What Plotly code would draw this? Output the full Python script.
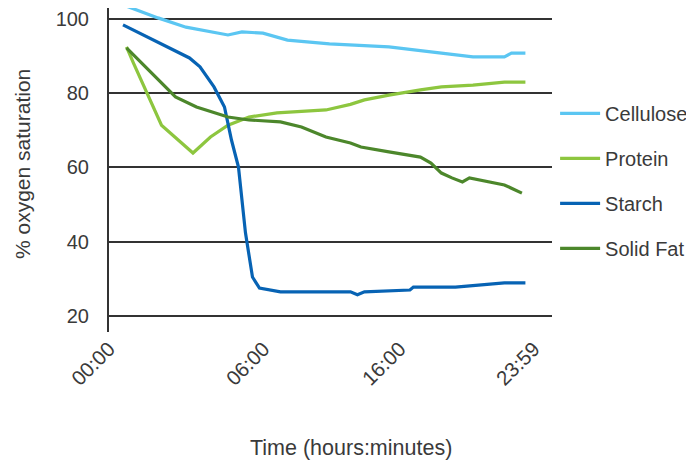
import plotly.graph_objects as go

# sample number of each reading (readings are evenly spaced in the sheet)
cellulose_x = [0, 10, 18, 30, 34, 40, 47, 55, 59, 76, 85, 91, 100, 109, 111, 115]
cellulose_y = [103.8, 100.3, 97.8, 95.7, 96.5, 96.2, 94.3, 93.5, 93.3, 92.5, 91.6, 90.8, 89.8, 89.8, 90.8, 90.8]

protein_x = [1, 3, 11, 20, 25, 30, 36, 44, 58, 65, 69, 76, 85, 91, 100, 109, 115]
protein_y = [92.5, 88.1, 71.4, 63.9, 68.2, 71.4, 73.6, 74.7, 75.5, 77.0, 78.2, 79.5, 80.9, 81.7, 82.2, 83.0, 83.0]

starch_x = [0, 19, 22, 26, 29, 30, 31, 33, 35, 37, 39, 45, 65, 67, 69, 82, 83, 95, 109, 115]
starch_y = [98.4, 89.5, 87.1, 81.7, 76.3, 72.0, 67.4, 60.1, 42.4, 30.5, 27.5, 26.5, 26.5, 25.7, 26.5, 27.0, 27.8, 27.8, 28.9, 28.9]

fat_x = [1, 8, 15, 21, 30, 36, 45, 51, 58, 65, 68, 76, 85, 88, 91, 94, 97, 99, 105, 109, 114]
fat_y = [92.2, 85.5, 79.0, 76.3, 73.6, 72.8, 72.3, 70.9, 68.2, 66.6, 65.5, 64.2, 62.8, 61.2, 58.5, 57.2, 56.1, 57.2, 56.1, 55.3, 53.1]

tick_pos = [-4, 40.2, 79.1, 117.4]
tick_text = ["00:00", "06:00", "16:00", "23:59"]
y_ticks = [20, 40, 60, 80, 100]

series = [
    ("Cellulose", cellulose_x, cellulose_y, "#5BC6F2"),
    ("Protein", protein_x, protein_y, "#8DC63F"),
    ("Starch", starch_x, starch_y, "#0763B4"),
    ("Solid Fat", fat_x, fat_y, "#4C872B"),
]

FONT = "Liberation Sans, Arial, sans-serif"
TXT = "#3a3a3a"

fig = go.Figure()
for name, xs, ys, col in series:
    fig.add_trace(go.Scatter(
        x=xs, y=ys, name=name, mode="lines", legendgroup=name,
        line=dict(color=col, width=3.2), cliponaxis=False,
    ))

# the page body keeps its default 8px margin, so the figure is sized to fit the window
fig.update_layout(
    width=686, height=456,
    margin=dict(l=101, r=142, t=0, b=132),
    paper_bgcolor="white", plot_bgcolor="white",
    font=dict(family=FONT, size=20, color=TXT),
    showlegend=True,
    legend=dict(x=1.007, xanchor="left", y=0.735, yanchor="top",
                font=dict(size=20, color=TXT), tracegroupgap=16,
                itemwidth=40,
                bgcolor="rgba(0,0,0,0)", traceorder="grouped"),
    annotations=[
        dict(text="Time (hours:minutes)", xref="paper", yref="paper",
             x=0.546, y=-0.358, xanchor="center", yanchor="middle",
             showarrow=False, font=dict(size=21.5, color=TXT)),
        dict(text="% oxygen saturation", xref="paper", yref="paper",
             x=-0.1964, y=0.5185, xanchor="center", yanchor="middle",
             textangle=-90, showarrow=False, borderpad=0,
             font=dict(size=21, color=TXT)),
    ],
)
fig.update_xaxes(
    range=[-4, 122.6], tickmode="array", tickvals=tick_pos, ticktext=tick_text,
    tickangle=-45, showgrid=False, zeroline=False, showline=False,
    automargin=False,
    tickfont=dict(size=20.5, color=TXT),
)
fig.update_yaxes(
    range=[15.69, 102.96], tickmode="array", tickvals=y_ticks,
    showgrid=True, gridcolor="#333333", gridwidth=1.6, zeroline=False,
    showline=True, linecolor="#333333", linewidth=2,
    ticks="", ticklabelstandoff=14, automargin=False,
    ticklabeloverflow="allow",
    tickfont=dict(size=20, color=TXT),
)

fig.write_html("out.html", config={"displayModeBar": False})
